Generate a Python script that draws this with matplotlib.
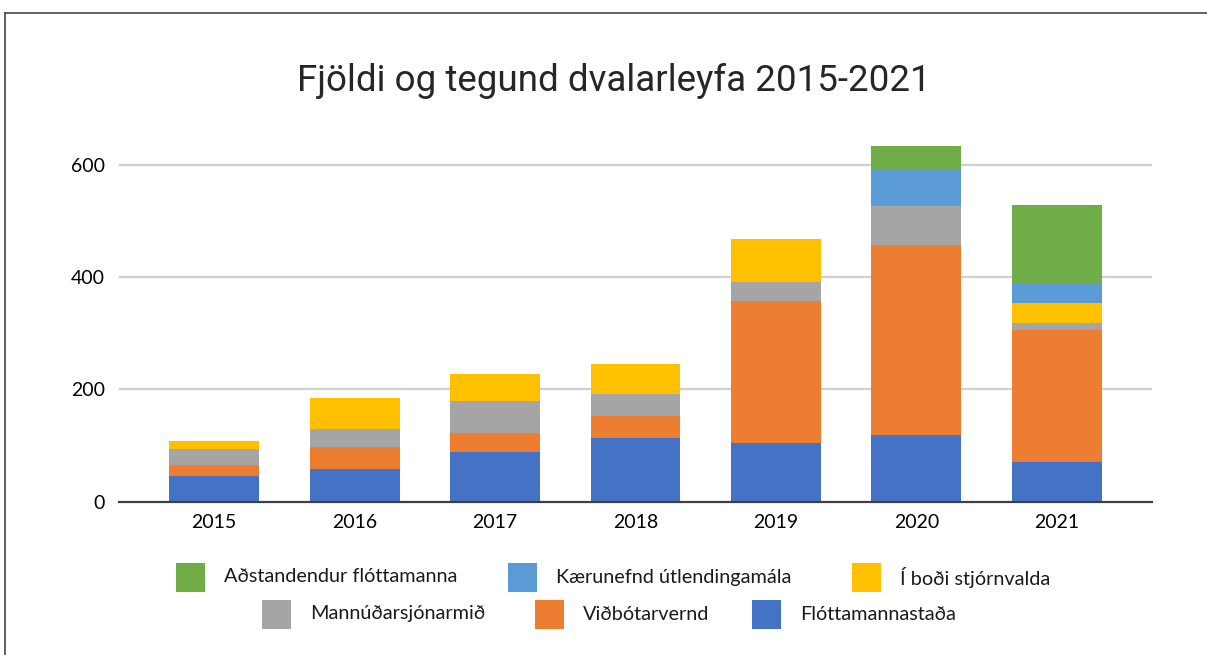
import matplotlib
matplotlib.use("Agg")
import matplotlib.pyplot as plt
from matplotlib.patches import Rectangle
from matplotlib.lines import Line2D
from matplotlib import font_manager

years = ["2015", "2016", "2017", "2018", "2019", "2020", "2021"]
floettamannastada = [45, 59, 88, 114, 105, 119, 71]
vidbotarvernd = [21, 38, 35, 39, 253, 339, 235]
mannudarsjonarmid = [28, 32, 57, 39, 34, 69, 13]
i_bodi_stjornvalda = [14, 56, 48, 53, 76, 0, 35]
kaerunefnd = [0, 0, 0, 0, 0, 66, 35]
adstandendur = [0, 0, 0, 0, 0, 40, 139]

series = [
    ("Flóttamannastaða", floettamannastada, "#4472C4"),
    ("Viðbótarvernd", vidbotarvernd, "#ED7D31"),
    ("Mannúðarsjónarmið", mannudarsjonarmid, "#A5A5A5"),
    ("Í boði stjórnvalda", i_bodi_stjornvalda, "#FFC000"),
    ("Kærunefnd útlendingamála", kaerunefnd, "#5B9BD5"),
    ("Aðstandendur flóttamanna", adstandendur, "#70AD47"),
]

def avail(names):
    out = []
    for n in names:
        try:
            font_manager.findfont(font_manager.FontProperties(family=n), fallback_to_default=False)
            out.append(n)
        except Exception:
            pass
    return out or ["DejaVu Sans"]

title_font = avail(["Roboto", "Liberation Sans"])
body_font = avail(["Lato", "Open Sans", "DejaVu Sans"])

W, H = 1207, 655
fig = plt.figure(figsize=(W / 100, H / 100), dpi=100)

# outer frame (top and left edges visible)
fig.add_artist(Line2D([5 / W, 1.0], [1 - 13 / H, 1 - 13 / H], color="#555555", lw=1.3))
fig.add_artist(Line2D([5 / W, 5 / W], [0, 1 - 13 / H], color="#555555", lw=1.3))

ax_left, ax_right = 118.7, 1152.3
ax_bottom_px, ymax = 501.7, 660
px_per_unit = (501.7 - 165.0) / 600
ax_top_px = ax_bottom_px - ymax * px_per_unit
ax = fig.add_axes([ax_left / W, 1 - ax_bottom_px / H, (ax_right - ax_left) / W,
                   (ax_bottom_px - ax_top_px) / H])

x = list(range(len(years)))
bottom = [0] * len(years)
for name, vals, col in series:
    ax.bar(x, vals, width=0.64, bottom=bottom, color=col, label=name, zorder=3, linewidth=0)
    bottom = [b + v for b, v in zip(bottom, vals)]

ax.set_xlim(-0.68, 6.68)
ax.set_ylim(0, ymax)
ax.set_yticks([0, 200, 400, 600])
ax.set_xticks(x)
ax.set_xticklabels(years)
ax.yaxis.grid(True, color="#d0d0d0", lw=1.6, zorder=0)
ax.set_axisbelow(True)
for s in ["top", "right", "left"]:
    ax.spines[s].set_visible(False)
ax.spines["bottom"].set_color("#404040")
ax.spines["bottom"].set_linewidth(1.6)
ax.spines["bottom"].set_zorder(4)
ax.tick_params(axis="both", length=0, labelsize=14, colors="#000000")
ax.tick_params(axis="y", pad=10)
ax.tick_params(axis="x", pad=9)
for lab in ax.get_xticklabels() + ax.get_yticklabels():
    lab.set_family(body_font)
ax.yaxis.get_gridlines()[0].set_visible(False)

fig.text(614 / W, 1 - 91 / H, "Fjöldi og tegund dvalarleyfa 2015-2021", ha="center",
         va="baseline", fontsize=26.5, family=title_font, fontweight="normal", color="#262626")

# legend (two centered rows)
legend_rows = [
    [("Aðstandendur flóttamanna", 176), ("Kærunefnd útlendingamála", 508), ("Í boði stjórnvalda", 852)],
    [("Mannúðarsjónarmið", 262), ("Viðbótarvernd", 535), ("Flóttamannastaða", 752)],
]
row_y = [577, 614]
colors = {n: c for n, _, c in series}
box = 29
for row, yc in zip(legend_rows, row_y):
    for name, xl in row:
        fig.add_artist(Rectangle((xl / W, 1 - (yc + box / 2) / H), box / W, box / H,
                                 facecolor=colors[name], edgecolor="none",
                                 transform=fig.transFigure))
        fig.text((xl + box + 19) / W, 1 - yc / H, name, ha="left", va="center",
                 fontsize=14.3, family=body_font, color="#1a1a1a")

fig.savefig("out.png", dpi=100)
